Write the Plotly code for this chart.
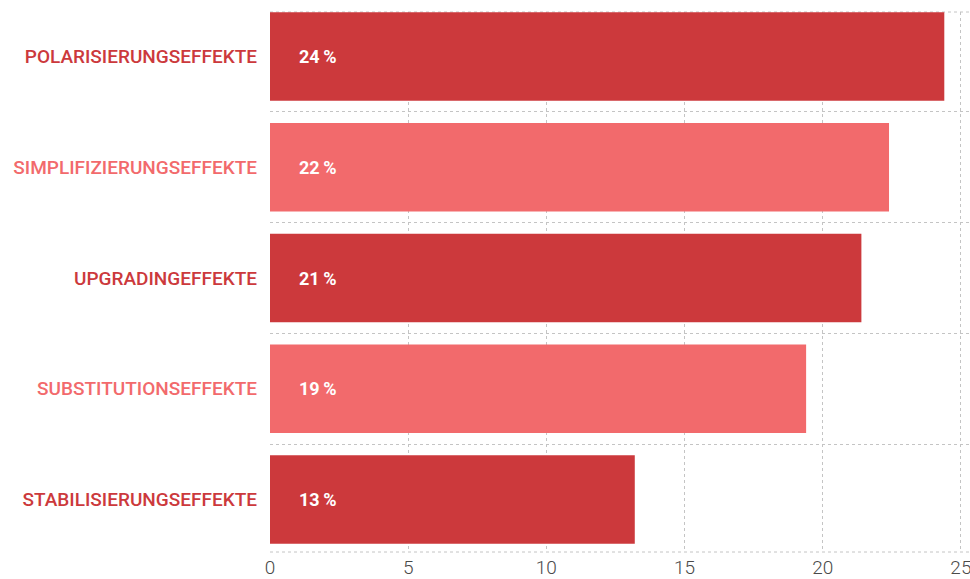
import plotly.graph_objects as go

categories = [
    "POLARISIERUNGSEFFEKTE",
    "SIMPLIFIZIERUNGSEFFEKTE",
    "UPGRADINGEFFEKTE",
    "SUBSTITUTIONSEFFEKTE",
    "STABILISIERUNGSEFFEKTE",
]
values = [24.4, 22.4, 21.4, 19.4, 13.2]
value_labels = ["24\u2009%", "22\u2009%", "21\u2009%", "19\u2009%", "13\u2009%"]
x_ticks = [0, 5, 10, 15, 20, 25]

DARK = "#CC393C"
LIGHT = "#F26A6C"
bar_colors = [DARK, LIGHT, DARK, LIGHT, DARK]

fig = go.Figure()
fig.add_trace(go.Bar(
    x=values,
    y=categories,
    orientation="h",
    marker=dict(color=bar_colors, line=dict(width=0)),
    hoverinfo="skip",
))

for cat, lab in zip(categories, value_labels):
    fig.add_annotation(
        x=0, y=cat, xref="x", yref="y",
        text=f"<b>{lab}</b>", showarrow=False,
        xanchor="left", yanchor="middle", xshift=27,
        font=dict(family="Roboto", size=18, color="white"),
    )

ticktext = [f"<span style='color:{c}'>{t}</span>" for t, c in zip(categories, bar_colors)]

fig.update_layout(
    width=970, height=579,
    margin=dict(l=270, r=0, t=12, b=27),
    paper_bgcolor="white", plot_bgcolor="white",
    showlegend=False,
    bargap=0.2,
    font=dict(family="Roboto", size=16, color="#555555"),
    xaxis=dict(
        range=[0, 25.33],
        tickmode="array", tickvals=x_ticks,
        showgrid=True, gridcolor="#C4C4C4", griddash="dot", gridwidth=1,
        zeroline=False, showline=False, automargin=False,
        ticks="", ticklabeloverflow="allow", ticklabelstandoff=2,
        tickfont=dict(family="Roboto", size=19, color="#4A4A4A", weight=300),
        fixedrange=True,
    ),
    yaxis=dict(
        type="category",
        categoryorder="array", categoryarray=categories,
        range=[4.474, -0.402],
        tickmode="array", tickvals=categories, ticktext=ticktext,
        tickson="boundaries", automargin=False,
        showgrid=True, gridcolor="#C4C4C4", griddash="dot", gridwidth=1,
        zeroline=False, showline=False, ticks="",
        ticklabelstandoff=12,
        tickfont=dict(family="Roboto", size=19, weight=500),
        fixedrange=True,
    ),
    shapes=[
        dict(type="line", xref="paper", yref="paper", x0=0, x1=1, y0=1, y1=1,
             line=dict(color="#C4C4C4", width=1, dash="dot"), layer="below"),
        dict(type="line", xref="paper", yref="paper", x0=0, x1=1, y0=0, y1=0,
             line=dict(color="#C4C4C4", width=1, dash="dot"), layer="below"),
    ],
)

fig.write_html(
    "out.html",
    config={"displayModeBar": False, "staticPlot": True},
    post_script="document.body.style.margin='0';document.body.style.overflow='hidden';",
)
